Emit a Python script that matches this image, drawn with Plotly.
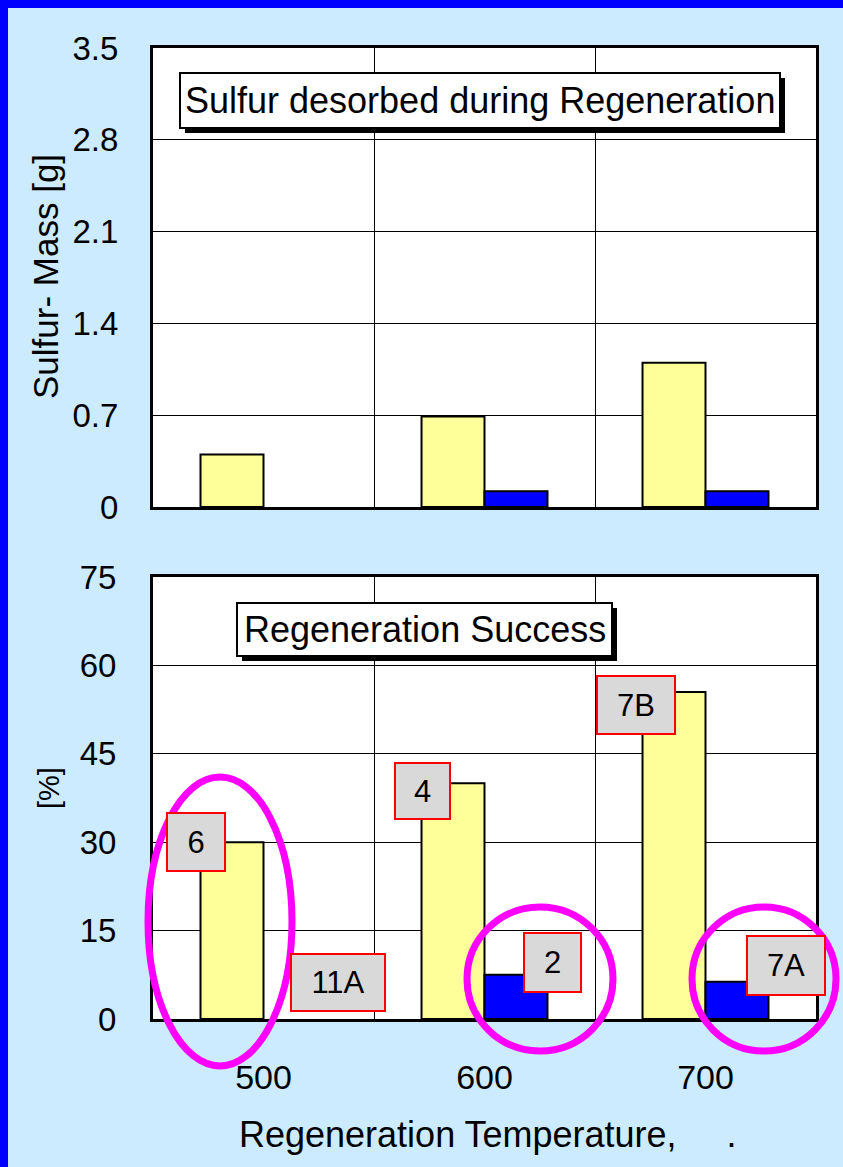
import plotly.graph_objects as go

# ---- data ----
temperatures = ["500", "600", "700"]
sulfur_yellow = [0.40, 0.69, 1.10]
sulfur_blue = [None, 0.12, 0.12]
success_yellow = [30.0, 40.0, 55.5]
success_blue = [0.0, 7.5, 6.3]

sulfur_ticks = [0, 0.7, 1.4, 2.1, 2.8, 3.5]
sulfur_ticktext = ["0", "0.7", "1.4", "2.1", "2.8", "3.5"]
success_ticks = [0, 15, 30, 45, 60, 75]

# sample tags on the success chart: (text, category index, series)
tag_text = ["6", "11A", "4", "2", "7B", "7A"]
tag_cat = [0, 0, 1, 1, 2, 2]
tag_series = ["yellow", "blue", "yellow", "blue", "yellow", "blue"]
tag_shift = [(-68, 0), (74, 37), (-62, -8), (68, 12), (-70, -13), (80, 16)]
tag_size = [(60, 60), (96, 59), (57, 58), (59, 61), (80, 60), (80, 61)]

W, H = 843, 1167
BG = "#CCEBFE"
YELLOW = "#FFFF99"
BLUE = "#0000FF"
FONT = "Liberation Sans, Arial, sans-serif"


def px(x):
    return x / W


def py(y):
    return 1 - y / H


def outline(values):
    # no outline for an empty (zero) bar
    return [0 if (v is None or v == 0) else 2 for v in values]


fig = go.Figure()

fig.add_trace(go.Bar(x=temperatures, y=sulfur_yellow,
                     marker=dict(color=YELLOW, line=dict(color="black", width=outline(sulfur_yellow))),
                     xaxis="x", yaxis="y", showlegend=False))
fig.add_trace(go.Bar(x=temperatures, y=sulfur_blue,
                     marker=dict(color=BLUE, line=dict(color="black", width=outline(sulfur_blue))),
                     xaxis="x", yaxis="y", showlegend=False))
fig.add_trace(go.Bar(x=temperatures, y=success_yellow,
                     marker=dict(color=YELLOW, line=dict(color="black", width=outline(success_yellow))),
                     xaxis="x2", yaxis="y2", showlegend=False))
fig.add_trace(go.Bar(x=temperatures, y=success_blue,
                     marker=dict(color=BLUE, line=dict(color="black", width=outline(success_blue))),
                     xaxis="x2", yaxis="y2", showlegend=False))

axis_common = dict(showline=True, mirror=True, linecolor="black", linewidth=3,
                   showgrid=True, gridcolor="black", gridwidth=1.3, zeroline=False,
                   automargin=False)
ytick_font = dict(size=33, color="black", family=FONT)
xtick_font = dict(size=34, color="black", family=FONT)

x_dom = [px(153), px(816)]
fig.update_layout(
    xaxis=dict(domain=x_dom, anchor="y", type="category", tickson="boundaries",
               range=[-0.5, 2.5], showticklabels=False, ticks="", **axis_common),
    yaxis=dict(domain=[py(507), py(48)], anchor="x", range=[0, 3.5], tickvals=sulfur_ticks,
               ticktext=sulfur_ticktext, ticks="", ticklabelstandoff=25, tickfont=ytick_font,
               **axis_common),
    xaxis2=dict(domain=x_dom, anchor="y2", type="category", tickson="boundaries",
                range=[-0.5, 2.5], ticks="", ticklabelstandoff=26, tickfont=xtick_font,
                **axis_common),
    yaxis2=dict(domain=[py(1019), py(577)], anchor="x2", range=[0, 75], tickvals=success_ticks,
                ticks="", ticklabelstandoff=27, tickfont=ytick_font, **axis_common),
    barmode="group", bargap=0.43, bargroupgap=0,
    width=W, height=H, autosize=False,
    margin=dict(l=0, r=0, t=0, b=0, pad=0, autoexpand=False),
    paper_bgcolor=BG, plot_bgcolor="white",
    font=dict(family=FONT, color="black"),
)

shapes = []
annotations = []

# frame strips along the top and left edge
shapes.append(dict(type="rect", xref="paper", yref="paper", x0=0, x1=1, y0=py(8), y1=1,
                   fillcolor=BLUE, line=dict(width=0), layer="above"))
shapes.append(dict(type="rect", xref="paper", yref="paper", x0=0, x1=px(8), y0=0, y1=1,
                   fillcolor=BLUE, line=dict(width=0), layer="above"))


def title_box(x0, y0, x1, y1, text, size):
    shapes.append(dict(type="rect", xref="paper", yref="paper", x0=px(x0 + 5), x1=px(x1 + 5),
                       y0=py(y1 + 5), y1=py(y0 + 5), fillcolor="black", line=dict(width=0), layer="above"))
    shapes.append(dict(type="rect", xref="paper", yref="paper", x0=px(x0), x1=px(x1),
                       y0=py(y1), y1=py(y0), fillcolor="white", line=dict(color="black", width=2), layer="above"))
    annotations.append(dict(xref="paper", yref="paper", x=px((x0 + x1) / 2), y=py((y0 + y1) / 2),
                            text=text, showarrow=False, font=dict(size=size, color="black", family=FONT),
                            xanchor="center", yanchor="middle"))


title_box(180, 73, 780, 128, "Sulfur desorbed during Regeneration", 36)
title_box(237, 603, 612, 656, "Regeneration Success", 36)

# axis titles
annotations.append(dict(xref="paper", yref="paper", x=px(46), y=py(277), text="Sulfur- Mass [g]",
                        textangle=-90, showarrow=False, font=dict(size=35, color="black", family=FONT),
                        xanchor="center", yanchor="middle"))
annotations.append(dict(xref="paper", yref="paper", x=px(49), y=py(788), text="[%]",
                        textangle=-90, showarrow=False, font=dict(size=29, color="black", family=FONT),
                        xanchor="center", yanchor="middle"))
annotations.append(dict(xref="paper", yref="paper", x=px(237), y=py(1134),
                        text="Regeneration Temperature,\u00a0\u00a0\u00a0\u00a0\u00a0.",
                        showarrow=False, font=dict(size=36, color="black", family=FONT),
                        xanchor="left", yanchor="middle"))

# sample tags anchored to the bar tops (x given as category index)
for txt, ci, ser, (dx, dy), (bw, bh) in zip(tag_text, tag_cat, tag_series, tag_shift, tag_size):
    val = success_yellow[ci] if ser == "yellow" else success_blue[ci]
    annotations.append(dict(xref="x2", yref="y2", x=ci, y=val, xshift=dx, yshift=dy,
                            text=txt, showarrow=False, bgcolor="#D9D9D9", bordercolor="#FF0000",
                            borderwidth=2, borderpad=0, width=bw - 4, height=bh - 4,
                            font=dict(size=31, color="black", family=FONT),
                            xanchor="center", yanchor="middle", align="center", valign="middle"))

# highlight rings
for x0, y0, x1, y1 in [(148, 777, 292, 1066), (467, 907, 613, 1051), (692, 907, 836, 1051)]:
    shapes.append(dict(type="circle", xref="paper", yref="paper", x0=px(x0), x1=px(x1),
                       y0=py(y1), y1=py(y0), line=dict(color="#FF00FF", width=7), layer="above"))

fig.update_layout(shapes=shapes, annotations=annotations)
fig.write_html("out.html")
